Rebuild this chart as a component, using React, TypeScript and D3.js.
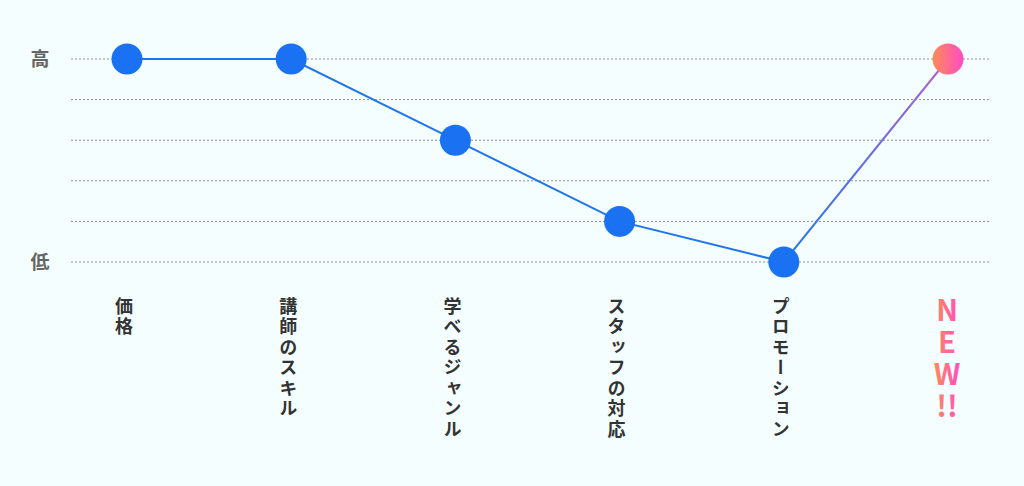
import React, { useEffect } from "react";
import * as d3 from "d3";

const categories = ["価格", "講師のスキル", "学べるジャンル", "スタッフの対応", "プロモーション", "NEW!!"];
const values = [5, 5, 3, 1, 0, 5];
const gridTicks = [0, 1, 2, 3, 4, 5];
const levelLabels = [
    { value: 5, label: "高" },
    { value: 0, label: "低" },
];
const newParts = ["N", "E", "W", "!!"];

const W = 1024;
const H = 486;
const FONT = "'Noto Sans CJK JP', 'Noto Sans', sans-serif";

export default function App() {
    useEffect(() => {
        document.body.style.margin = "0";
    }, []);

    const x = d3.scalePoint<string>().domain(categories).range([127, 948]);
    const y = d3.scaleLinear().domain([0, 5]).range([262, 59]);

    const pts = categories.map((c, i) => ({ c, v: values[i], x: x(c) as number, y: y(values[i]) }));
    const n = pts.length;
    const line = d3.line<typeof pts[number]>().x(d => d.x).y(d => d.y);
    const last = pts[n - 1];
    const prev = pts[n - 2];

    return (
        <svg width={W} height={H} style={{ display: "block" }}>
            <defs>
                <linearGradient id="newLine" gradientUnits="userSpaceOnUse"
                    x1={prev.x} y1={prev.y} x2={last.x} y2={last.y}>
                    <stop offset="0" stopColor="#1f75f0" />
                    <stop offset="1" stopColor="#b061d2" />
                </linearGradient>
                <linearGradient id="newFill" x1="0" y1="0" x2="1" y2="0">
                    <stop offset="0" stopColor="#ff8b55" />
                    <stop offset="1" stopColor="#ff4cc6" />
                </linearGradient>
            </defs>
            <rect width={W} height={H} fill="#f4feff" />

            {/* grid */}
            {gridTicks.map(t => (
                <line key={t} x1={71} x2={990} y1={y(t)} y2={y(t)}
                    stroke="#8f8f8f" strokeWidth={1} strokeDasharray="2,2" />
            ))}

            {levelLabels.map(l => (
                <text key={l.label} x={40} y={y(l.value)} dy="0.36em" textAnchor="middle"
                    fontFamily={FONT} fontWeight={700} fontSize={19} fill="#666">{l.label}</text>
            ))}

            {/* line */}
            <path d={line(pts.slice(0, n - 1)) ?? ""} fill="none" stroke="#1f75f0" strokeWidth={2} />
            <path d={line([prev, last]) ?? ""} fill="none" stroke="url(#newLine)" strokeWidth={2} />

            {pts.map((p, i) => (
                <circle key={p.c} cx={p.x} cy={p.y} r={15.5}
                    fill={i === n - 1 ? "url(#newFill)" : "#1a72f2"} />
            ))}

            {/* category labels */}
            {pts.slice(0, n - 1).map(p => (
                <text key={p.c} x={p.x - 3} y={297}
                    style={{ writingMode: "vertical-rl", letterSpacing: "2.5px" }}
                    fontFamily={FONT} fontWeight={700} fontSize={18} fill="#333">{p.c}</text>
            ))}

            <text textAnchor="middle" fontFamily={FONT} fontWeight={700} fontSize={29} fill="url(#newFill)">
                {newParts.map((s, i) => (
                    <tspan key={s} x={last.x - 1} y={321 + i * 32}>{s}</tspan>
                ))}
            </text>
        </svg>
    );
}
